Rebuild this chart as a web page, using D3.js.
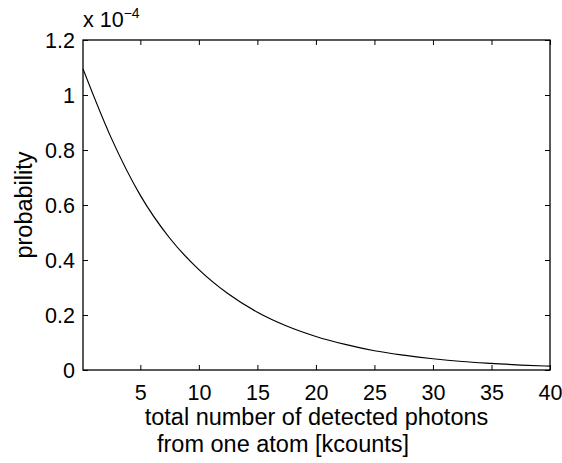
<!DOCTYPE html>
<html><head><meta charset="utf-8">
<script src="https://cdn.jsdelivr.net/npm/d3@7"></script>
<style>body{margin:0;background:#fff}text{font-family:"Liberation Sans",Arial,sans-serif;fill:#000}</style>
</head><body><svg id="c" width="562" height="463"></svg>
<script>
const xVals = [0.1, 2.5, 5, 7.5, 10, 12.5, 15, 17.5, 20, 22.5, 25, 27.5, 30, 32.5, 35, 37.5, 40];
const probVals = [1.095, 0.845, 0.635, 0.48, 0.365, 0.277, 0.210, 0.160, 0.122, 0.093, 0.070, 0.054, 0.041, 0.031, 0.024, 0.018, 0.014];
const xTicks = [5, 10, 15, 20, 25, 30, 35, 40];
const yTicks = [0, 0.2, 0.4, 0.6, 0.8, 1, 1.2];
const yTickLabels = ["0", "0.2", "0.4", "0.6", "0.8", "1", "1.2"];

const svg = d3.select("#c");
const L = 83, R = 550, T = 40, B = 370;
const x = d3.scaleLinear().domain([0.1, 40]).range([L, R]);
const y = d3.scaleLinear().domain([0, 1.2]).range([B, T]);
const fs = 21.5, lfs = 23.5, tl = 5;

const gx = svg.append("g").attr("transform", `translate(0,${B})`)
  .call(d3.axisBottom(x).tickValues(xTicks).tickSize(-tl).tickPadding(0).tickFormat(d3.format("d")));
const gxt = svg.append("g").attr("transform", `translate(0,${T})`)
  .call(d3.axisTop(x).tickValues(xTicks).tickSize(-tl).tickFormat(""));
const gy = svg.append("g").attr("transform", `translate(${L},0)`)
  .call(d3.axisLeft(y).tickValues(yTicks).tickSize(-tl).tickPadding(8).tickFormat((d,i)=>yTickLabels[i]));
const gyr = svg.append("g").attr("transform", `translate(${R},0)`)
  .call(d3.axisRight(y).tickValues(yTicks).tickSize(-tl).tickFormat(""));
[gx,gxt,gy,gyr].forEach(g=>{
  g.attr("font-family", null).attr("font-size", null);
  g.selectAll(".domain").remove();
  g.selectAll("line").attr("stroke","#000").attr("stroke-width",1);
  g.selectAll("text").style("font-size", fs+"px").attr("fill","#000");
});
gx.selectAll("text").attr("y", 30).attr("dy", null);
gy.selectAll("text").attr("dy","0.35em");
svg.append("rect").attr("x",L).attr("y",T).attr("width",R-L).attr("height",B-T)
  .attr("fill","none").attr("stroke","#000").attr("stroke-width",1.3);

const line = d3.line().x((d,i)=>x(xVals[i])).y(d=>y(d)).curve(d3.curveMonotoneX);
svg.append("path").datum(probVals).attr("d", line).attr("fill","none").attr("stroke","#000").attr("stroke-width",1.2);

svg.append("text").style("font-size", lfs+"px").attr("x", (L+R)/2).attr("y", 425).attr("text-anchor","middle").text("total number of detected photons");
svg.append("text").style("font-size", lfs+"px").attr("x", 157).attr("y", 452).text("from one atom [kcounts]");

svg.append("text").style("font-size", lfs+"px").attr("text-anchor","middle")
  .attr("transform", `translate(32,${(T+B)/2}) rotate(-90)`).text("probability");

const ex = svg.append("text").style("font-size", fs+"px").attr("x", 83).attr("y", 27);
ex.append("tspan").text("x 10");
ex.append("tspan").attr("dy", -9).style("font-size","14px").text("\u22124");
</script></body></html>
